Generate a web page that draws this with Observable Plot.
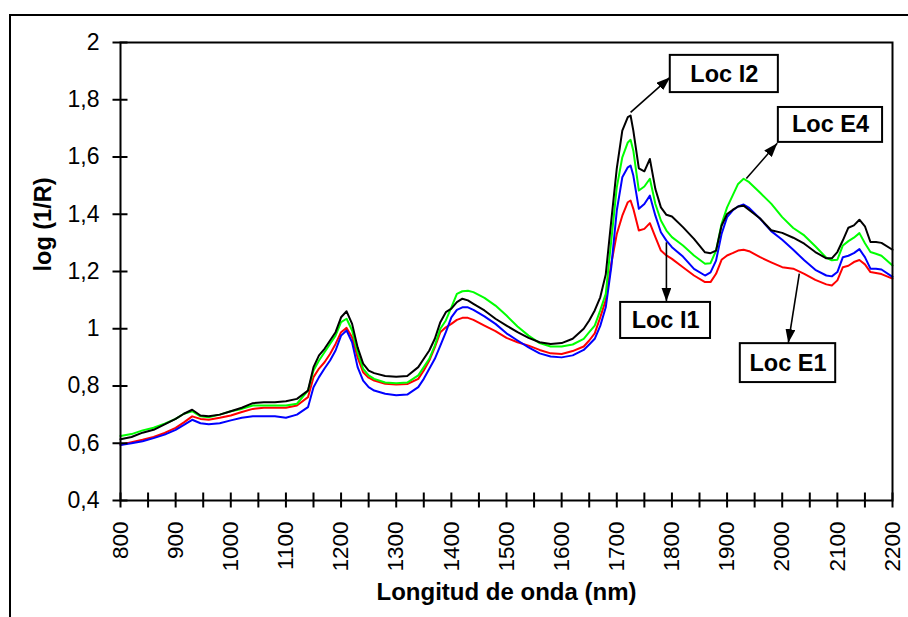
<!DOCTYPE html>
<html><head><meta charset="utf-8">
<script src="https://cdn.jsdelivr.net/npm/d3@7"></script>
<script src="https://cdn.jsdelivr.net/npm/@observablehq/plot@0.6"></script>
<style>
body{margin:0;background:#fff;}
#wrap{position:relative;width:908px;height:617px;overflow:hidden;background:#fff;}
#border{position:absolute;left:9px;top:14px;width:1000px;height:800px;border:2px solid #000;box-sizing:border-box;pointer-events:none;z-index:2;}
</style></head>
<body><div id="wrap"><div id="border"></div><div id="chart"></div></div>
<script>
const wavelengths = [
 800,820,840,860,880,900,915,930,945,960,980,1000,1020,1040,1060,1080,1100,1120,1140,
 1150,1160,1170,1180,1190,1200,1210,1220,1230,1240,1250,1260,1280,1300,
 1320,1340,1350,1360,1370,1380,1390,1400,1410,1420,1430,1440,
 1460,1480,1500,1520,1540,1560,1580,1600,1620,1640,1650,1660,1670,1680,
 1690,1700,1710,1720,1725,1730,1740,1750,1760,1770,1780,1790,1800,
 1820,1840,1860,1870,1880,1890,1900,1910,1920,1930,1940,
 1960,1980,2000,2020,2040,2060,2080,2090,2100,2110,2120,2130,2140,2150,2160,2170,2180,2200
];
const locI2 = [
 0.614,0.622,0.637,0.647,0.666,0.685,0.703,0.717,0.697,0.694,0.700,0.712,0.724,0.740,0.743,0.743,0.747,0.755,0.784,
 0.866,0.907,0.930,0.959,0.988,1.040,1.061,1.017,0.935,0.878,0.854,0.845,0.835,0.832,
 0.835,0.866,0.895,0.924,0.965,1.023,1.058,1.070,1.093,1.105,1.099,1.087,
 1.064,1.035,1.011,0.988,0.968,0.953,0.947,0.950,0.965,1.000,1.029,1.064,1.110,1.190,
 1.378,1.560,1.692,1.739,1.745,1.692,1.560,1.550,1.593,1.488,1.424,1.398,1.392,
 1.355,1.314,1.267,1.264,1.273,1.360,1.401,1.415,1.427,1.430,1.415,
 1.385,1.344,1.335,1.318,1.297,1.268,1.246,1.246,1.268,1.309,1.353,1.361,1.381,1.358,1.303,1.303,1.300,1.276
];
const locE4 = [
 0.625,0.632,0.645,0.654,0.668,0.685,0.703,0.712,0.694,0.691,0.700,0.712,0.720,0.732,0.732,0.732,0.732,0.738,0.784,
 0.854,0.889,0.918,0.947,0.976,1.023,1.035,0.994,0.918,0.860,0.837,0.825,0.812,0.810,
 0.812,0.837,0.866,0.895,0.941,1.000,1.029,1.075,1.122,1.131,1.133,1.128,
 1.108,1.081,1.046,1.008,0.976,0.950,0.938,0.938,0.945,0.965,0.988,1.011,1.064,1.122,
 1.308,1.494,1.599,1.651,1.660,1.622,1.483,1.497,1.524,1.436,1.378,1.343,1.320,
 1.291,1.256,1.227,1.229,1.273,1.366,1.424,1.465,1.506,1.524,1.512,
 1.475,1.437,1.390,1.352,1.326,1.288,1.248,1.239,1.241,1.291,1.306,1.318,1.334,1.299,1.268,1.262,1.255,1.221
];
const locI1 = [
 0.594,0.600,0.607,0.618,0.630,0.647,0.664,0.682,0.670,0.666,0.670,0.680,0.689,0.694,0.694,0.694,0.689,0.700,0.726,
 0.796,0.831,0.861,0.889,0.924,0.976,0.994,0.953,0.866,0.819,0.796,0.784,0.773,0.768,
 0.770,0.796,0.825,0.860,0.895,0.941,0.988,1.040,1.066,1.075,1.075,1.066,
 1.043,1.017,0.984,0.959,0.935,0.914,0.903,0.900,0.907,0.926,0.945,0.965,1.010,1.075,
 1.215,1.413,1.529,1.564,1.570,1.535,1.419,1.436,1.465,1.395,1.337,1.308,1.285,
 1.252,1.209,1.186,1.197,1.238,1.331,1.390,1.413,1.427,1.434,1.422,
 1.384,1.341,1.311,1.276,1.239,1.206,1.186,1.183,1.198,1.250,1.255,1.264,1.278,1.250,1.210,1.210,1.207,1.181
];
const locE1 = [
 0.595,0.604,0.612,0.622,0.636,0.654,0.673,0.694,0.685,0.682,0.689,0.697,0.709,0.720,0.724,0.724,0.724,0.732,0.761,
 0.831,0.861,0.883,0.912,0.947,0.988,1.003,0.970,0.900,0.848,0.829,0.819,0.808,0.805,
 0.807,0.825,0.854,0.889,0.935,0.988,1.005,1.017,1.031,1.038,1.038,1.031,
 1.011,0.992,0.968,0.953,0.941,0.926,0.914,0.912,0.922,0.938,0.959,0.984,1.040,1.100,
 1.227,1.331,1.395,1.442,1.448,1.419,1.343,1.349,1.369,1.320,1.273,1.256,1.244,
 1.215,1.186,1.163,1.163,1.192,1.241,1.256,1.264,1.273,1.276,1.271,
 1.250,1.232,1.215,1.210,1.192,1.171,1.155,1.151,1.169,1.215,1.220,1.233,1.240,1.225,1.198,1.195,1.191,1.175
];
const seriesNames = ["Loc E1","Loc I1","Loc E4","Loc I2"];
const seriesColors = ["#ff0000","#0000ff","#00ff00","#000000"];
const xTickLabels = [800,900,1000,1100,1200,1300,1400,1500,1600,1700,1800,1900,2000,2100,2200];
const xTickMarks = d3.range(800, 2201, 50);
const yTicks = [0.4,0.6,0.8,1,1.2,1.4,1.6,1.8,2];

// annotation anchors (data space)
const labelBoxes = [
 {text:"Loc I2", x1:1797, x2:1993, y1:1.825, y2:1.955},
 {text:"Loc E4", x1:1993, x2:2182, y1:1.651, y2:1.773},
 {text:"Loc I1", x1:1707, x2:1870, y1:0.966, y2:1.092},
 {text:"Loc E1", x1:1924, x2:2097, y1:0.812, y2:0.948}
];
const arrows = [
 {x1:1725, y1:1.756, x2:1797, y2:1.879},
 {x1:1935, y1:1.525, x2:1991, y2:1.648},
 {x1:1790, y1:1.302, x2:1790, y2:1.095},
 {x1:2031, y1:1.193, x2:2011, y2:0.950}
];

const valuesBy = {"Loc I2": locI2, "Loc E4": locE4, "Loc I1": locI1, "Loc E1": locE1};
const rows = seriesNames.flatMap(name => wavelengths.map((w, i) => ({wl: w, v: valuesBy[name][i], loc: name})));
const fmt = d => String(+d.toFixed(1)).replace(".", ",");

const chart = Plot.plot({
  width: 908, height: 617,
  marginLeft: 120, marginRight: 16, marginTop: 42, marginBottom: 117,
  style: {fontFamily: "'Liberation Sans', Arial, sans-serif", background: "transparent", color: "#000"},
  x: {domain: [800, 2200]},
  y: {domain: [0.4, 2]},
  color: {domain: seriesNames, range: seriesColors},
  marks: [
    Plot.line(rows, {x: "wl", y: "v", z: "loc", stroke: "loc", strokeWidth: 2}),
    Plot.frame({stroke: "#000", strokeWidth: 2}),
    Plot.axisX(xTickMarks, {tickSize: 15, dy: -7.5, tickFormat: () => "", strokeWidth: 2, label: null}),
    Plot.axisX(xTickLabels, {tickSize: 0, tickPadding: 21, tickRotate: -90, fontSize: 22.5, label: null, tickFormat: d => String(d)}),
    Plot.axisY(yTicks, {tickSize: 15, dx: 7.5, tickFormat: () => "", strokeWidth: 2, label: null}),
    Plot.axisY(yTicks, {tickSize: 0, tickPadding: 21, fontSize: 23, label: null, tickFormat: fmt}),
    Plot.link(arrows, {x1: "x1", y1: "y1", x2: "x2", y2: "y2", stroke: "#000", strokeWidth: 1.6}),
    Plot.rect(labelBoxes, {x1: "x1", x2: "x2", y1: "y1", y2: "y2", fill: "#fff", stroke: "#000", strokeWidth: 2}),
    Plot.text(labelBoxes, {x: d => (d.x1 + d.x2) / 2, y: d => (d.y1 + d.y2) / 2, text: "text", fontSize: 23.5, fontWeight: "bold", fill: "#000"}),
    Plot.text(["log (1/R)"], {frameAnchor: "left", dx: -77, rotate: -90, text: d => d, fontSize: 23.5, fontWeight: "bold", fill: "#000"}),
    Plot.text(["Longitud de onda (nm)"], {frameAnchor: "bottom", dy: 99, text: d => d, fontSize: 24, fontWeight: "bold", fill: "#000"})
  ]
});

// filled arrowheads
const ns = "http://www.w3.org/2000/svg";
const defs = document.createElementNS(ns, "defs");
const marker = document.createElementNS(ns, "marker");
marker.setAttribute("id", "tri-head");
marker.setAttribute("viewBox", "0 0 14 10");
marker.setAttribute("refX", "14");
marker.setAttribute("refY", "5");
marker.setAttribute("markerWidth", "14");
marker.setAttribute("markerHeight", "10");
marker.setAttribute("markerUnits", "userSpaceOnUse");
marker.setAttribute("orient", "auto");
const mp = document.createElementNS(ns, "path");
mp.setAttribute("d", "M0,0L14,5L0,10Z");
mp.setAttribute("fill", "#000");
marker.appendChild(mp);
defs.appendChild(marker);
chart.insertBefore(defs, chart.firstChild);
chart.querySelectorAll('g[aria-label="link"] path').forEach(p => p.setAttribute("marker-end", "url(#tri-head)"));

document.getElementById("chart").appendChild(chart);
</script>
</body></html>
